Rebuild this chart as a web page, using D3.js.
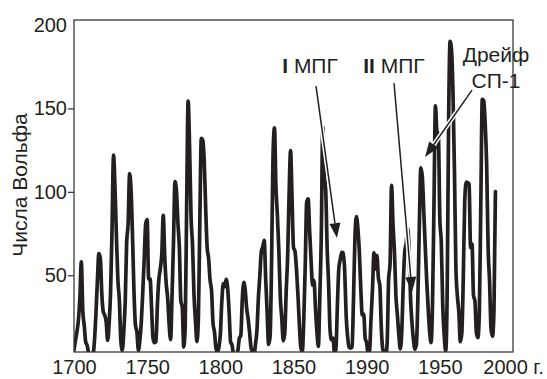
<!DOCTYPE html>
<html>
<head>
<meta charset="utf-8">
<script src="https://cdn.jsdelivr.net/npm/d3@7"></script>
<style>
  body { margin: 0; background: #fff; }
  svg text { font-family: "Liberation Sans", Arial, sans-serif; fill: #231f20; }
</style>
</head>
<body>
<div id="chart"></div>
<script>
// yearly Wolf numbers, 1700..1988
const firstYear = 1700;
const wolf = [
  5, 11, 16, 23, 36, 58, 29, 20, 10, 8,
  3, 0, 0, 2, 11, 27, 47, 63, 60, 39,
  28, 26, 22, 11, 21, 40, 78, 122, 103, 73,
  47, 35, 11, 5, 16, 34, 70, 81, 111, 101,
  73, 40, 20, 16, 5, 11, 22, 40, 60, 80.9,
  83.4, 47.7, 47.8, 30.7, 12.2, 9.6, 10.2, 32.4, 47.6, 54,
  62.9, 85.9, 61.2, 45.1, 36.4, 20.9, 11.4, 37.8, 69.8, 106.1,
  100.8, 81.6, 66.5, 34.8, 30.6, 7, 19.8, 92.5, 154.4, 125.9,
  84.8, 68.1, 38.5, 22.8, 10.2, 24.1, 82.9, 132, 130.9, 118.1,
  89.9, 66.6, 60, 46.9, 41, 21.3, 16, 6.4, 4.1, 6.8,
  14.5, 34, 45, 43.1, 47.5, 42.2, 28.1, 10.1, 8.1, 2.5,
  0, 1.4, 5, 12.2, 13.9, 35.4, 45.8, 41, 30.1, 23.9,
  15.6, 6.6, 4, 1.8, 8.5, 16.6, 36.3, 49.6, 64.2, 67,
  70.9, 47.8, 27.5, 8.5, 13.2, 56.9, 121.5, 138.3, 103.2, 85.7,
  64.6, 36.7, 24.2, 10.7, 15, 40.1, 61.5, 98.5, 124.7, 96.3,
  66.6, 64.5, 54.1, 39, 20.6, 6.7, 4.3, 22.7, 54.8, 93.8,
  95.8, 77.2, 59.1, 44, 47, 30.5, 16.3, 7.3, 37.6, 74,
  139, 111.2, 101.6, 66.2, 44.7, 17, 11.3, 12.4, 3.4, 6,
  32.3, 54.3, 59.7, 63.7, 63.5, 52.2, 25.4, 13.1, 6.8, 6.3,
  7.1, 35.6, 73, 85.1, 78, 64, 41.8, 26.2, 26.7, 12.1,
  9.5, 2.7, 5, 24.4, 42, 63.5, 53.8, 62, 48.5, 43.9,
  18.6, 5.7, 3.6, 1.4, 9.6, 47.4, 57.1, 103.9, 80.6, 63.6,
  37.6, 26.1, 14.2, 5.8, 16.7, 44.3, 63.9, 69, 77.8, 64.9,
  35.7, 21.2, 11.1, 5.7, 8.7, 36.1, 79.7, 114.4, 109.6, 88.8,
  67.8, 47.5, 30.6, 16.3, 9.6, 33.2, 92.6, 151.6, 136.3, 134.7,
  83.9, 69.4, 31.5, 13.9, 4.4, 38, 141.7, 190.2, 184.8, 159,
  112.3, 53.9, 37.5, 27.9, 10.2, 15.1, 47, 93.8, 105.9, 105.5,
  104.5, 66.6, 68.9, 38, 34.5, 15.5, 12.6, 27.5, 92.5, 155.4,
  154.6, 140.5, 115.9, 66.6, 45.9, 17.9, 13.4, 29.4, 100.2
];

const xTicks = [1700, 1750, 1800, 1850, 1900, 1950, 2000];
// the "1990" under 1900 is how the original figure prints it
const xTickLabels = ["1700", "1750", "1800", "1850", "1990", "1950", "2000 г."];
const yTicks = [50, 100, 150, 200];
const yLabel = "Числа Вольфа";

// annotation labels with arrows (text anchor, arrow start, arrow tip) in year / value units
const notes = [
  { numeral: "I", text: "МПГ", at: [1861.3, 171.2], from: [1865.4, 163.4], to: [1879.7, 72.3] },
  { numeral: "II", text: "МПГ", at: [1918.7, 171.2], from: [1918.7, 165.2], to: [1931.0, 40] },
  { lines: ["Дрейф", "СП-1"], at: [1988.4, 177.8], from: [1972.0, 161], to: [1939.9, 120.9] }
];

const data = wolf.map((v, i) => ({ x: firstYear + i, y: v }));

const margin = { top: 20, right: 34, bottom: 27, left: 74 };
const fullWidth = 547, fullHeight = 379;
const width = fullWidth - margin.left - margin.right;
const height = fullHeight - margin.top - margin.bottom;
const ink = "#231f20";

const svg = d3.select("#chart")
  .append("svg")
  .attr("width", fullWidth)
  .attr("height", fullHeight);

const g = svg.append("g")
  .attr("transform", `translate(${margin.left},${margin.top})`);

const x = d3.scaleLinear().domain([1700, 2000]).range([0, width]);
const y = d3.scaleLinear().domain([4, 203]).range([height, 0]);

g.append("clipPath").attr("id", "plot-clip")
  .append("rect").attr("width", width).attr("height", height);

// the curve
g.append("path")
  .datum(data)
  .attr("clip-path", "url(#plot-clip)")
  .attr("fill", "none")
  .attr("stroke", ink)
  .attr("stroke-width", 3.7)
  .attr("stroke-linejoin", "round")
  .attr("stroke-linecap", "round")
  .attr("d", d3.line().x(d => x(d.x)).y(d => y(d.y)).curve(d3.curveMonotoneX));

// frame
g.append("rect")
  .attr("width", width)
  .attr("height", height)
  .attr("fill", "none")
  .attr("stroke", "#3a3a3a")
  .attr("stroke-width", 1.3);

// y axis
const yAxis = g.append("g")
  .call(d3.axisLeft(y).tickValues(yTicks).tickSize(6).tickPadding(1).tickFormat(d3.format("d")));
yAxis.select(".domain").remove();
yAxis.selectAll(".tick line").attr("stroke", "#3a3a3a").attr("stroke-width", 1.3)
  .filter(d => d === 200).remove();
yAxis.selectAll(".tick text")
  .attr("fill", ink)
  .style("font-size", "20px")
  .style("font-family", "'Liberation Sans', Arial, sans-serif");

// x axis
const xAxis = g.append("g")
  .attr("transform", `translate(0,${height})`)
  .call(d3.axisBottom(x).tickValues(xTicks).tickSize(0).tickPadding(8)
    .tickFormat((d, i) => xTickLabels[i]));
xAxis.select(".domain").remove();
xAxis.selectAll(".tick text")
  .attr("fill", ink)
  .style("font-size", "20px")
  .style("font-family", "'Liberation Sans', Arial, sans-serif");

// y title
svg.append("text")
  .attr("transform", "rotate(-90)")
  .attr("x", -185)
  .attr("y", 27)
  .attr("text-anchor", "middle")
  .style("font-size", "21px")
  .text(yLabel);

// arrows: white halo knocks out the curve underneath, then the thin black arrow
const headLen = 15, headHalf = 5.5;
notes.forEach(n => {
  const x1 = x(n.from[0]), y1 = y(n.from[1]);
  const x2 = x(n.to[0]), y2 = y(n.to[1]);
  const len = Math.hypot(x2 - x1, y2 - y1);
  const ux = (x2 - x1) / len, uy = (y2 - y1) / len;
  const bx = x2 - ux * headLen, by = y2 - uy * headLen;

  g.append("line")
    .attr("x1", x1).attr("y1", y1).attr("x2", bx).attr("y2", by)
    .attr("stroke", "#fff").attr("stroke-width", 4.5);
  g.append("line")
    .attr("x1", x1).attr("y1", y1).attr("x2", bx).attr("y2", by)
    .attr("stroke", ink).attr("stroke-width", 1.5);
  g.append("path")
    .attr("d", `M${x2},${y2}L${bx - uy * headHalf},${by + ux * headHalf}L${bx + uy * headHalf},${by - ux * headHalf}Z`)
    .attr("fill", ink);

  const t = g.append("text")
    .attr("x", x(n.at[0]))
    .attr("y", y(n.at[1]))
    .attr("text-anchor", "middle")
    .style("font-size", "21px");
  if (n.lines) {
    n.lines.forEach((s, i) => {
      t.append("tspan")
        .attr("x", x(n.at[0]))
        .attr("dy", i === 0 ? 0 : "1.25em")
        .text(s);
    });
  } else {
    t.append("tspan").style("font-weight", "bold").text(n.numeral);
    t.append("tspan").text(" " + n.text);
  }
});
</script>
</body>
</html>
